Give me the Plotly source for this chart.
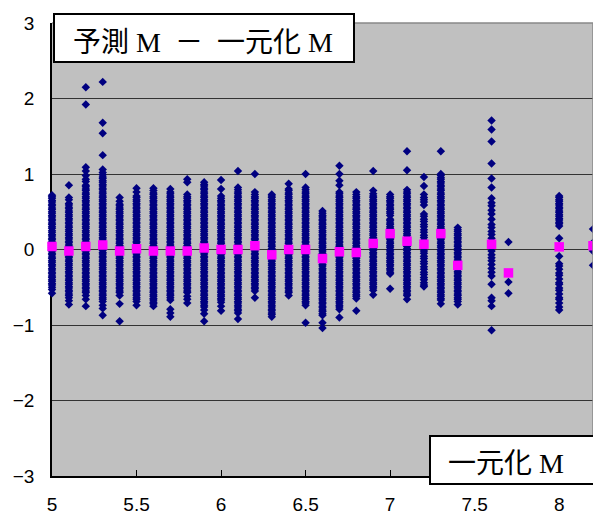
import plotly.graph_objects as go

# ---- data: x categories (一元化 M) ----
x_cols = [5.0, 5.1, 5.2, 5.3, 5.4, 5.5, 5.6, 5.7, 5.8, 5.9, 6.0, 6.1, 6.2, 6.3, 6.4,
          6.5, 6.6, 6.7, 6.8, 6.9, 7.0, 7.1, 7.2, 7.3, 7.4, 7.6, 7.7, 8.0, 8.2]

# ---- residuals (予測 M − 一元化 M) per column ----
c50 = [0.72, 0.70, 0.68, 0.65, 0.63, 0.60, 0.58, 0.55, 0.53, 0.50, 0.48, 0.45, 0.43, 0.40, 0.38, 0.35, 0.33, 0.30, 0.28, 0.25, 0.23, 0.20, 0.18, 0.15, 0.13, 0.10, 0.08, 0.05, 0.03, 0.00, -0.02, -0.05, -0.07, -0.10, -0.12, -0.15, -0.17, -0.20, -0.22, -0.25, -0.27, -0.30, -0.32, -0.35, -0.37, -0.40, -0.42, -0.45, -0.47, -0.50, -0.53, -0.58]
c51 = [0.85, 0.69, 0.66, 0.61, 0.59, 0.56, 0.54, 0.51, 0.49, 0.46, 0.44, 0.41, 0.39, 0.36, 0.34, 0.31, 0.29, 0.26, 0.24, 0.21, 0.19, 0.16, 0.14, 0.11, 0.09, 0.06, 0.04, 0.01, -0.01, -0.04, -0.06, -0.09, -0.11, -0.14, -0.16, -0.19, -0.21, -0.24, -0.26, -0.29, -0.31, -0.34, -0.36, -0.39, -0.41, -0.44, -0.46, -0.49, -0.51, -0.54, -0.56, -0.59, -0.61, -0.64, -0.68, -0.73]
c52 = [2.15, 1.92, 1.09, 1.04, 0.98, 0.93, 0.90, 0.85, 0.83, 0.80, 0.78, 0.75, 0.73, 0.70, 0.68, 0.65, 0.63, 0.60, 0.58, 0.55, 0.53, 0.50, 0.48, 0.45, 0.43, 0.40, 0.38, 0.35, 0.33, 0.30, 0.28, 0.25, 0.23, 0.20, 0.18, 0.15, 0.13, 0.10, 0.08, 0.05, 0.03, 0.00, -0.02, -0.05, -0.07, -0.10, -0.12, -0.15, -0.17, -0.20, -0.22, -0.25, -0.27, -0.30, -0.32, -0.35, -0.37, -0.40, -0.42, -0.45, -0.47, -0.50, -0.52, -0.55, -0.57, -0.61, -0.66, -0.75]
c53 = [2.22, 1.68, 1.54, 1.25, 1.06, 1.02, 0.99, 0.96, 0.94, 0.91, 0.89, 0.86, 0.84, 0.81, 0.79, 0.76, 0.74, 0.71, 0.69, 0.66, 0.64, 0.61, 0.59, 0.56, 0.54, 0.51, 0.49, 0.46, 0.44, 0.41, 0.39, 0.36, 0.34, 0.31, 0.29, 0.26, 0.24, 0.21, 0.19, 0.16, 0.14, 0.11, 0.09, 0.06, 0.04, 0.01, -0.01, -0.04, -0.06, -0.09, -0.11, -0.14, -0.16, -0.19, -0.21, -0.24, -0.26, -0.29, -0.31, -0.34, -0.36, -0.39, -0.41, -0.44, -0.46, -0.49, -0.51, -0.54, -0.56, -0.59, -0.61, -0.64, -0.66, -0.69, -0.74, -0.78, -0.87]
c54 = [0.69, 0.64, 0.60, 0.58, 0.55, 0.53, 0.50, 0.48, 0.45, 0.43, 0.40, 0.38, 0.35, 0.33, 0.30, 0.28, 0.25, 0.23, 0.20, 0.18, 0.15, 0.13, 0.10, 0.08, 0.05, 0.03, 0.00, -0.02, -0.05, -0.07, -0.10, -0.12, -0.15, -0.17, -0.20, -0.22, -0.25, -0.27, -0.30, -0.32, -0.35, -0.37, -0.40, -0.42, -0.45, -0.47, -0.50, -0.52, -0.55, -0.57, -0.61, -0.72, -0.95]
c55 = [0.81, 0.76, 0.71, 0.69, 0.66, 0.64, 0.61, 0.59, 0.56, 0.54, 0.51, 0.49, 0.46, 0.44, 0.41, 0.39, 0.36, 0.34, 0.31, 0.29, 0.26, 0.24, 0.21, 0.19, 0.16, 0.14, 0.11, 0.09, 0.06, 0.04, 0.01, -0.01, -0.04, -0.06, -0.09, -0.11, -0.14, -0.16, -0.19, -0.21, -0.24, -0.26, -0.29, -0.31, -0.34, -0.36, -0.39, -0.41, -0.44, -0.46, -0.49, -0.51, -0.54, -0.56, -0.59, -0.61, -0.64, -0.66, -0.69, -0.74]
c56 = [0.81, 0.78, 0.75, 0.73, 0.70, 0.68, 0.65, 0.63, 0.60, 0.58, 0.55, 0.53, 0.50, 0.48, 0.45, 0.43, 0.40, 0.38, 0.35, 0.33, 0.30, 0.28, 0.25, 0.23, 0.20, 0.18, 0.15, 0.13, 0.10, 0.08, 0.05, 0.03, 0.00, -0.02, -0.05, -0.07, -0.10, -0.12, -0.15, -0.17, -0.20, -0.22, -0.25, -0.27, -0.30, -0.32, -0.35, -0.37, -0.40, -0.42, -0.45, -0.47, -0.50, -0.52, -0.55, -0.57, -0.60, -0.62, -0.65, -0.67, -0.70, -0.72, -0.75]
c57 = [0.80, 0.76, 0.74, 0.71, 0.69, 0.66, 0.64, 0.61, 0.59, 0.56, 0.54, 0.51, 0.49, 0.46, 0.44, 0.41, 0.39, 0.36, 0.34, 0.31, 0.29, 0.26, 0.24, 0.21, 0.19, 0.16, 0.14, 0.11, 0.09, 0.06, 0.04, 0.01, -0.01, -0.04, -0.06, -0.09, -0.11, -0.14, -0.16, -0.19, -0.21, -0.24, -0.26, -0.29, -0.31, -0.34, -0.36, -0.39, -0.41, -0.44, -0.46, -0.49, -0.51, -0.54, -0.56, -0.59, -0.61, -0.64, -0.67, -0.79, -0.84, -0.89]
c58 = [0.93, 0.89, 0.73, 0.70, 0.68, 0.65, 0.63, 0.60, 0.58, 0.55, 0.53, 0.50, 0.48, 0.45, 0.43, 0.40, 0.38, 0.35, 0.33, 0.30, 0.28, 0.25, 0.23, 0.20, 0.18, 0.15, 0.13, 0.10, 0.08, 0.05, 0.03, 0.00, -0.02, -0.05, -0.07, -0.10, -0.12, -0.15, -0.17, -0.20, -0.22, -0.25, -0.27, -0.30, -0.32, -0.35, -0.37, -0.40, -0.42, -0.45, -0.47, -0.50, -0.52, -0.55, -0.57, -0.62, -0.66, -0.71]
c59 = [0.89, 0.86, 0.84, 0.81, 0.79, 0.76, 0.74, 0.71, 0.69, 0.66, 0.64, 0.61, 0.59, 0.56, 0.54, 0.51, 0.49, 0.46, 0.44, 0.41, 0.39, 0.36, 0.34, 0.31, 0.29, 0.26, 0.24, 0.21, 0.19, 0.16, 0.14, 0.11, 0.09, 0.06, 0.04, 0.01, -0.01, -0.04, -0.06, -0.09, -0.11, -0.14, -0.16, -0.19, -0.21, -0.24, -0.26, -0.29, -0.31, -0.34, -0.36, -0.39, -0.41, -0.44, -0.46, -0.49, -0.51, -0.54, -0.56, -0.59, -0.61, -0.64, -0.66, -0.69, -0.71, -0.74, -0.76, -0.80, -0.85, -0.95]
c60 = [0.92, 0.80, 0.71, 0.68, 0.65, 0.63, 0.60, 0.58, 0.55, 0.53, 0.50, 0.48, 0.45, 0.43, 0.40, 0.38, 0.35, 0.33, 0.30, 0.28, 0.25, 0.23, 0.20, 0.18, 0.15, 0.13, 0.10, 0.08, 0.05, 0.03, 0.00, -0.02, -0.05, -0.07, -0.10, -0.12, -0.15, -0.17, -0.20, -0.22, -0.25, -0.27, -0.30, -0.32, -0.35, -0.37, -0.40, -0.42, -0.45, -0.47, -0.50, -0.52, -0.55, -0.57, -0.60, -0.62, -0.65, -0.67, -0.70, -0.75, -0.81]
c61 = [1.04, 0.82, 0.79, 0.76, 0.74, 0.71, 0.69, 0.66, 0.64, 0.61, 0.59, 0.56, 0.54, 0.51, 0.49, 0.46, 0.44, 0.41, 0.39, 0.36, 0.34, 0.31, 0.29, 0.26, 0.24, 0.21, 0.19, 0.16, 0.14, 0.11, 0.09, 0.06, 0.04, 0.01, -0.01, -0.04, -0.06, -0.09, -0.11, -0.14, -0.16, -0.19, -0.21, -0.24, -0.26, -0.29, -0.31, -0.34, -0.36, -0.39, -0.41, -0.44, -0.46, -0.49, -0.51, -0.54, -0.56, -0.59, -0.61, -0.64, -0.66, -0.69, -0.71, -0.74, -0.76, -0.79, -0.81, -0.84, -0.92]
c62 = [1.00, 0.76, 0.73, 0.70, 0.68, 0.65, 0.63, 0.60, 0.58, 0.55, 0.53, 0.50, 0.48, 0.45, 0.43, 0.40, 0.38, 0.35, 0.33, 0.30, 0.28, 0.25, 0.23, 0.20, 0.18, 0.15, 0.13, 0.10, 0.08, 0.05, 0.03, 0.00, -0.02, -0.05, -0.07, -0.10, -0.12, -0.15, -0.17, -0.20, -0.22, -0.25, -0.27, -0.30, -0.32, -0.35, -0.37, -0.40, -0.42, -0.45, -0.47, -0.50, -0.52, -0.55, -0.64]
c63 = [0.73, 0.71, 0.69, 0.66, 0.64, 0.61, 0.59, 0.56, 0.54, 0.51, 0.49, 0.46, 0.44, 0.41, 0.39, 0.36, 0.34, 0.31, 0.29, 0.26, 0.24, 0.21, 0.19, 0.16, 0.14, 0.11, 0.09, 0.06, 0.04, 0.01, -0.01, -0.04, -0.06, -0.09, -0.11, -0.14, -0.16, -0.19, -0.21, -0.24, -0.26, -0.29, -0.31, -0.34, -0.36, -0.39, -0.41, -0.44, -0.46, -0.49, -0.51, -0.54, -0.56, -0.59, -0.61, -0.64, -0.66, -0.69, -0.71, -0.74, -0.76, -0.79, -0.81, -0.84, -0.86, -0.89]
c64 = [0.87, 0.80, 0.78, 0.75, 0.73, 0.70, 0.68, 0.65, 0.63, 0.60, 0.58, 0.55, 0.53, 0.50, 0.48, 0.45, 0.43, 0.40, 0.38, 0.35, 0.33, 0.30, 0.28, 0.25, 0.23, 0.20, 0.18, 0.15, 0.13, 0.10, 0.08, 0.05, 0.03, 0.00, -0.02, -0.05, -0.07, -0.10, -0.12, -0.15, -0.17, -0.20, -0.22, -0.25, -0.27, -0.30, -0.32, -0.35, -0.37, -0.40, -0.42, -0.45, -0.47, -0.50, -0.52, -0.55, -0.57, -0.61]
c65 = [1.00, 0.82, 0.79, 0.76, 0.74, 0.71, 0.69, 0.66, 0.64, 0.61, 0.59, 0.56, 0.54, 0.51, 0.49, 0.46, 0.44, 0.41, 0.39, 0.36, 0.34, 0.31, 0.29, 0.26, 0.24, 0.21, 0.19, 0.16, 0.14, 0.11, 0.09, 0.06, 0.04, 0.01, -0.01, -0.04, -0.06, -0.09, -0.11, -0.14, -0.16, -0.19, -0.21, -0.24, -0.26, -0.29, -0.31, -0.34, -0.36, -0.39, -0.41, -0.44, -0.46, -0.49, -0.51, -0.54, -0.56, -0.59, -0.61, -0.64, -0.66, -0.69, -0.71, -0.74, -0.97]
c66 = [0.51, 0.48, 0.45, 0.43, 0.40, 0.38, 0.35, 0.33, 0.30, 0.28, 0.25, 0.23, 0.20, 0.18, 0.15, 0.13, 0.10, 0.08, 0.05, 0.03, 0.00, -0.02, -0.05, -0.07, -0.10, -0.12, -0.15, -0.17, -0.20, -0.22, -0.25, -0.27, -0.30, -0.32, -0.35, -0.37, -0.40, -0.42, -0.45, -0.47, -0.50, -0.52, -0.55, -0.57, -0.60, -0.62, -0.65, -0.67, -0.70, -0.72, -0.75, -0.77, -0.80, -0.82, -0.85, -0.87, -0.97, -1.04]
c67 = [1.11, 1.00, 0.91, 0.85, 0.76, 0.74, 0.71, 0.69, 0.66, 0.64, 0.61, 0.59, 0.56, 0.54, 0.51, 0.49, 0.46, 0.44, 0.41, 0.39, 0.36, 0.34, 0.31, 0.29, 0.26, 0.24, 0.21, 0.19, 0.16, 0.14, 0.11, 0.09, 0.06, 0.04, 0.01, -0.01, -0.04, -0.06, -0.09, -0.11, -0.14, -0.16, -0.19, -0.21, -0.24, -0.26, -0.29, -0.31, -0.34, -0.36, -0.39, -0.41, -0.44, -0.46, -0.49, -0.51, -0.54, -0.56, -0.59, -0.61, -0.64, -0.66, -0.69, -0.71, -0.74, -0.76, -0.79, -0.90]
c68 = [0.76, 0.73, 0.70, 0.68, 0.65, 0.63, 0.60, 0.58, 0.55, 0.53, 0.50, 0.48, 0.45, 0.43, 0.40, 0.38, 0.35, 0.33, 0.30, 0.28, 0.25, 0.23, 0.20, 0.18, 0.15, 0.13, 0.10, 0.08, 0.05, 0.03, 0.00, -0.02, -0.05, -0.07, -0.10, -0.12, -0.15, -0.17, -0.20, -0.22, -0.25, -0.27, -0.30, -0.32, -0.35, -0.37, -0.40, -0.42, -0.45, -0.47, -0.50, -0.52, -0.55, -0.57, -0.60, -0.62, -0.65, -0.81]
c69 = [1.04, 0.78, 0.74, 0.71, 0.69, 0.66, 0.64, 0.61, 0.59, 0.56, 0.54, 0.51, 0.49, 0.46, 0.44, 0.41, 0.39, 0.36, 0.34, 0.31, 0.29, 0.26, 0.24, 0.21, 0.19, 0.16, 0.14, 0.11, 0.09, 0.06, 0.04, 0.01, -0.01, -0.04, -0.06, -0.09, -0.11, -0.14, -0.16, -0.19, -0.21, -0.24, -0.26, -0.29, -0.31, -0.34, -0.36, -0.39, -0.41, -0.44, -0.46, -0.49, -0.51, -0.54, -0.60]
c70 = [0.73, 0.70, 0.68, 0.65, 0.63, 0.60, 0.58, 0.55, 0.53, 0.50, 0.48, 0.45, 0.40, 0.38, 0.35, 0.33, 0.30, 0.28, 0.25, 0.23, 0.20, 0.18, 0.15, 0.13, 0.10, 0.08, 0.05, 0.03, 0.00, -0.02, -0.05, -0.07, -0.10, -0.12, -0.15, -0.17, -0.20, -0.22, -0.25, -0.27, -0.30, -0.32, -0.52]
c71 = [1.30, 1.05, 0.79, 0.76, 0.74, 0.71, 0.69, 0.66, 0.64, 0.61, 0.59, 0.56, 0.54, 0.51, 0.49, 0.46, 0.44, 0.41, 0.39, 0.36, 0.34, 0.31, 0.29, 0.26, 0.24, 0.21, 0.19, 0.16, 0.14, 0.11, 0.09, 0.06, 0.04, 0.01, -0.01, -0.04, -0.06, -0.09, -0.11, -0.14, -0.16, -0.19, -0.21, -0.24, -0.26, -0.29, -0.31, -0.34, -0.36, -0.39, -0.41, -0.44, -0.46, -0.49, -0.51, -0.54, -0.56, -0.59, -0.61, -0.66]
c72 = [0.96, 0.84, 0.73, 0.69, 0.66, 0.63, 0.59, 0.47, 0.44, 0.40, 0.37, 0.33, 0.30, 0.26, 0.23, 0.19, 0.16, 0.12, 0.09, 0.05, 0.02, -0.02, -0.05, -0.09, -0.12, -0.16, -0.19, -0.23, -0.26, -0.30, -0.33, -0.37, -0.40, -0.44, -0.47, -0.49]
c73 = [1.30, 1.00, 0.98, 0.95, 0.93, 0.90, 0.88, 0.85, 0.83, 0.80, 0.78, 0.75, 0.73, 0.70, 0.68, 0.65, 0.63, 0.60, 0.58, 0.55, 0.53, 0.50, 0.48, 0.45, 0.43, 0.40, 0.38, 0.35, 0.33, 0.30, 0.28, 0.25, 0.23, 0.20, 0.18, 0.15, 0.13, 0.10, 0.08, 0.05, 0.03, 0.00, -0.02, -0.05, -0.07, -0.10, -0.12, -0.15, -0.17, -0.20, -0.22, -0.25, -0.27, -0.30, -0.32, -0.35, -0.37, -0.40, -0.42, -0.45, -0.47, -0.50, -0.52, -0.55, -0.57, -0.60, -0.62, -0.65, -0.67, -0.72]
c74 = [0.29, 0.26, 0.24, 0.21, 0.19, 0.16, 0.14, 0.11, 0.09, 0.06, 0.04, 0.01, -0.01, -0.04, -0.06, -0.09, -0.11, -0.14, -0.16, -0.19, -0.21, -0.24, -0.26, -0.29, -0.31, -0.34, -0.36, -0.39, -0.41, -0.44, -0.46, -0.49, -0.51, -0.54, -0.56, -0.59, -0.61, -0.64, -0.66, -0.69, -0.73]
c76 = [1.71, 1.59, 1.43, 1.14, 0.94, 0.82, 0.68, 0.62, 0.58, 0.52, 0.47, 0.40, 0.33, 0.29, 0.24, 0.20, 0.15, 0.11, 0.07, 0.03, -0.02, -0.07, -0.11, -0.15, -0.20, -0.25, -0.30, -0.35, -0.46, -0.64, -0.68, -0.75, -1.07]
c77 = [0.10, -0.43, -0.58]
c80 = [0.71, 0.69, 0.66, 0.64, 0.61, 0.59, 0.56, 0.54, 0.51, 0.49, 0.46, 0.44, 0.41, 0.39, 0.36, 0.34, 0.31, 0.15, 0.04, -0.09, -0.19, -0.22, -0.26, -0.31, -0.34, -0.39, -0.44, -0.46, -0.51, -0.54, -0.59, -0.64, -0.66, -0.71, -0.76, -0.80]
c82 = [0.27, 0.09, -0.02, -0.21]

y_cols = [c50, c51, c52, c53, c54, c55, c56, c57, c58, c59, c60, c61, c62, c63, c64,
          c65, c66, c67, c68, c69, c70, c71, c72, c73, c74, c76, c77, c80, c82]

# ---- mean residual per column (magenta squares) ----
mean_vals = [0.04, -0.02, 0.04, 0.06, -0.02, 0.01, -0.02, -0.02, -0.02, 0.02, 0.00, 0.00, 0.05, -0.07, 0.00,
             0.00, -0.12, -0.03, -0.04, 0.08, 0.21, 0.11, 0.07, 0.21, -0.21, 0.07, -0.31, 0.035, 0.05]

y_ticks = [-3, -2, -1, 0, 1, 2, 3]
x_ticks = [5, 5.5, 6, 6.5, 7, 7.5, 8]

title_text = "予測 M\u2002－\u2002一元化 M"
xlabel_text = "一元化 M"

pts_x, pts_y = [], []
for xv, ys in zip(x_cols, y_cols):
    pts_x.extend([xv] * len(ys))
    pts_y.extend(ys)

fig = go.Figure()
fig.add_trace(go.Scatter(
    x=pts_x, y=pts_y, mode="markers", cliponaxis=False,
    marker=dict(symbol="diamond", size=6.5, color="#000080", line=dict(width=0)),
    hoverinfo="skip"))
fig.add_trace(go.Scatter(
    x=x_cols, y=mean_vals, mode="markers", cliponaxis=False,
    marker=dict(symbol="square", size=9.5, color="#FF00FF", line=dict(width=0)),
    hoverinfo="skip"))

tick_font = dict(family="Liberation Sans, Arial, sans-serif", size=19, color="black")
title_font = dict(family="Liberation Serif, Noto Sans CJK JP, serif", size=28, color="black")
label_font = dict(family="Liberation Serif, Noto Sans CJK JP, serif", size=28, color="black")

# the page body has an 8px margin, so the figure is 593x510 and placed at (8, 8)
OFF = 8
W, H = 601 - OFF, 518 - OFF
T, B, L, R = 15, 42, 44, 8
PH = H - T - B
PW = W - L - R


def px2x(p):  # page x pixel -> paper fraction
    return (p - OFF - L) / PW


def px2y(p):  # page y pixel -> paper fraction
    return (H - B - (p - OFF)) / PH


fig.update_layout(
    width=W, height=H,
    margin=dict(l=L, r=R, t=T, b=B, autoexpand=False),
    paper_bgcolor="white", plot_bgcolor="#C0C0C0",
    showlegend=False,
    xaxis=dict(range=[5, 8.2], tickvals=x_ticks, ticktext=[str(v) for v in x_ticks],
               showgrid=False, zeroline=False, ticks="inside", ticklen=6, tickwidth=1,
               tickcolor="black", showline=True, linecolor="black", linewidth=1.5,
               tickfont=tick_font, ticklabelstandoff=10, layer="below traces", automargin=False),
    yaxis=dict(range=[-3, 3], tickvals=y_ticks, showgrid=True, gridcolor="#333333", gridwidth=1.2,
               zeroline=False, ticks="", showline=True, linecolor="black", linewidth=1.5,
               tickfont=tick_font, ticklabelstandoff=12, layer="below traces", automargin=False),
    shapes=[
        dict(type="line", xref="paper", yref="paper", x0=0, x1=1, y0=1, y1=1,
             line=dict(color="#888888", width=1.5)),
        dict(type="line", xref="paper", yref="paper", x0=1, x1=1, y0=0, y1=1,
             line=dict(color="#888888", width=1.5)),
        dict(type="rect", xref="paper", yref="paper", x0=px2x(54), x1=px2x(354), y0=px2y(62), y1=px2y(14),
             fillcolor="white", line=dict(color="black", width=2)),
        dict(type="rect", xref="paper", yref="paper", x0=px2x(430), x1=px2x(603), y0=px2y(484), y1=px2y(436),
             fillcolor="white", line=dict(color="black", width=2)),
    ],
    annotations=[
        dict(text=title_text, xref="paper", yref="paper", x=px2x(202.5), y=px2y(42),
             xanchor="center", yanchor="middle", showarrow=False, font=title_font),
        dict(text=xlabel_text, xref="paper", yref="paper", x=px2x(505.5), y=px2y(463),
             xanchor="center", yanchor="middle", showarrow=False, font=label_font),
    ],
)

fig.write_html("out.html")
